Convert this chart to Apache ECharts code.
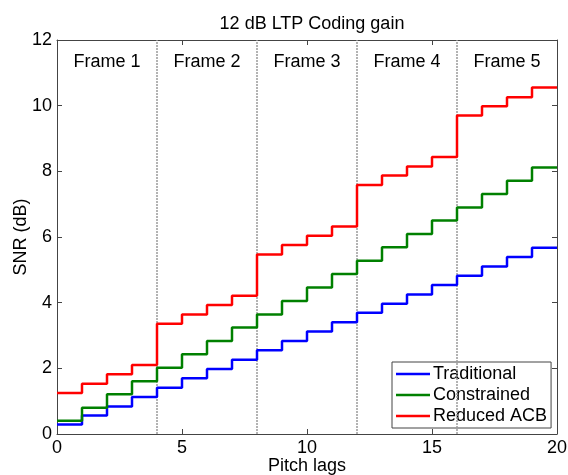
<!DOCTYPE html>
<html><head><meta charset="utf-8">
<script src="https://cdn.jsdelivr.net/npm/echarts@6/dist/echarts.min.js"></script>
<style>html,body{margin:0;padding:0;background:#fff}#c{width:568px;height:475px}</style>
</head><body><div id="c"></div>
<script>
const lagBounds = [0,1,2,3,4,5,6,7,8,9,10,11,12,13,14,15,16,17,18,19,20];
const traditional = [0.29,0.56,0.84,1.13,1.41,1.70,1.98,2.26,2.55,2.83,3.12,3.40,3.69,3.97,4.25,4.54,4.82,5.10,5.39,5.67];
const constrained = [0.40,0.80,1.21,1.61,2.02,2.43,2.83,3.24,3.64,4.05,4.46,4.87,5.28,5.69,6.09,6.50,6.90,7.31,7.71,8.12];
const reducedACB = [1.25,1.53,1.82,2.10,3.36,3.64,3.93,4.21,5.47,5.76,6.04,6.32,7.58,7.87,8.15,8.44,9.70,9.98,10.26,10.55];
const frameBounds = [4,8,12,16];
const frameLabels = ['Frame 1','Frame 2','Frame 3','Frame 4','Frame 5'];
const frameCenters = [2,6,10,14,18];
const frameLabelY = 11.33;
const seriesNames = ['Traditional','Constrained','Reduced ACB'];
const seriesColors = ['#0000ff','#008000','#ff0000'];

function stepData(vals){
  const d = vals.map((v,i)=>[lagBounds[i], v]);
  d.push([lagBounds[lagBounds.length-1], vals[vals.length-1]]);
  return d;
}
const font = 'Liberation Sans, Arial, sans-serif';
const fs = 18;
const axisColor = '#444';
const chart = echarts.init(document.getElementById('c'), null, {renderer:'canvas'});
const allVals = [traditional, constrained, reducedACB];
const lineSeries = allVals.map((v,i)=>({
  name: seriesNames[i], type:'line', step:'end', showSymbol:false, symbol:'none',
  data: stepData(v), lineStyle:{color:seriesColors[i], width:2.5}, itemStyle:{color:seriesColors[i]},
  z: 5+i, animation:false
}));
const axisCommon = {
  axisLine:{show:true, onZero:false, lineStyle:{color:axisColor, width:1}},
  axisTick:{show:true, inside:true, length:5, lineStyle:{color:axisColor}},
  splitLine:{show:false}
};
chart.setOption({
  animation:false,
  title:{text:'12 dB LTP Coding gain', left:307, top:10, textAlign:'center',
    textStyle:{fontFamily:font, fontSize:fs, fontWeight:'normal', color:'#000'}},
  grid:{left:57, right:11, top:40, bottom:41, containLabel:false, outerBoundsMode:'none'},
  legend:{
    data: seriesNames, orient:'vertical', left:392, top:362,
    backgroundColor:'#fff', borderColor:'#444', borderWidth:1, padding:[3,4,3,4],
    itemGap:3, itemWidth:34, itemHeight:2.5, icon:'rect',
    textStyle:{fontFamily:font, fontSize:fs, color:'#000', padding:[0,0,0,-2]}
  },
  xAxis:[
    Object.assign({type:'value', min:0, max:20, interval:5,
      name:'Pitch lags', nameLocation:'middle', nameGap:23, nameMoveOverlap:false,
      nameTextStyle:{fontFamily:font, fontSize:fs, color:'#000'},
      axisLabel:{fontFamily:font, fontSize:fs, color:'#000', margin:5}}, axisCommon),
    Object.assign({type:'value', min:0, max:20, interval:5, position:'top',
      axisLabel:{show:false}}, axisCommon)
  ],
  yAxis:[
    Object.assign({type:'value', min:0, max:12, interval:2,
      name:'SNR (dB)', nameLocation:'middle', nameGap:27, nameMoveOverlap:false,
      nameTextStyle:{fontFamily:font, fontSize:fs, color:'#000'},
      axisLabel:{fontFamily:font, fontSize:fs, color:'#000', margin:5}}, axisCommon),
    Object.assign({type:'value', min:0, max:12, interval:2, position:'right',
      axisLabel:{show:false}}, axisCommon)
  ],
  series: [
    {
      type:'scatter', symbolSize:0, silent:true, z:2,
      itemStyle:{opacity:1},
      data: frameLabels.map((t,i)=>({value:[frameCenters[i], frameLabelY], name:t})),
      label:{show:true, position:'inside', formatter:p=>p.name,
        fontFamily:font, fontSize:fs, color:'#000', textBorderWidth:0, opacity:1},
      markLine:{
        silent:true, symbol:['none','none'], label:{show:false},
        lineStyle:{color:'#9a9a9a', type:[2,1], width:1.5},
        data: frameBounds.map(b=>({xAxis:b}))
      }
    }
  ].concat(lineSeries)
});
</script></body></html>
